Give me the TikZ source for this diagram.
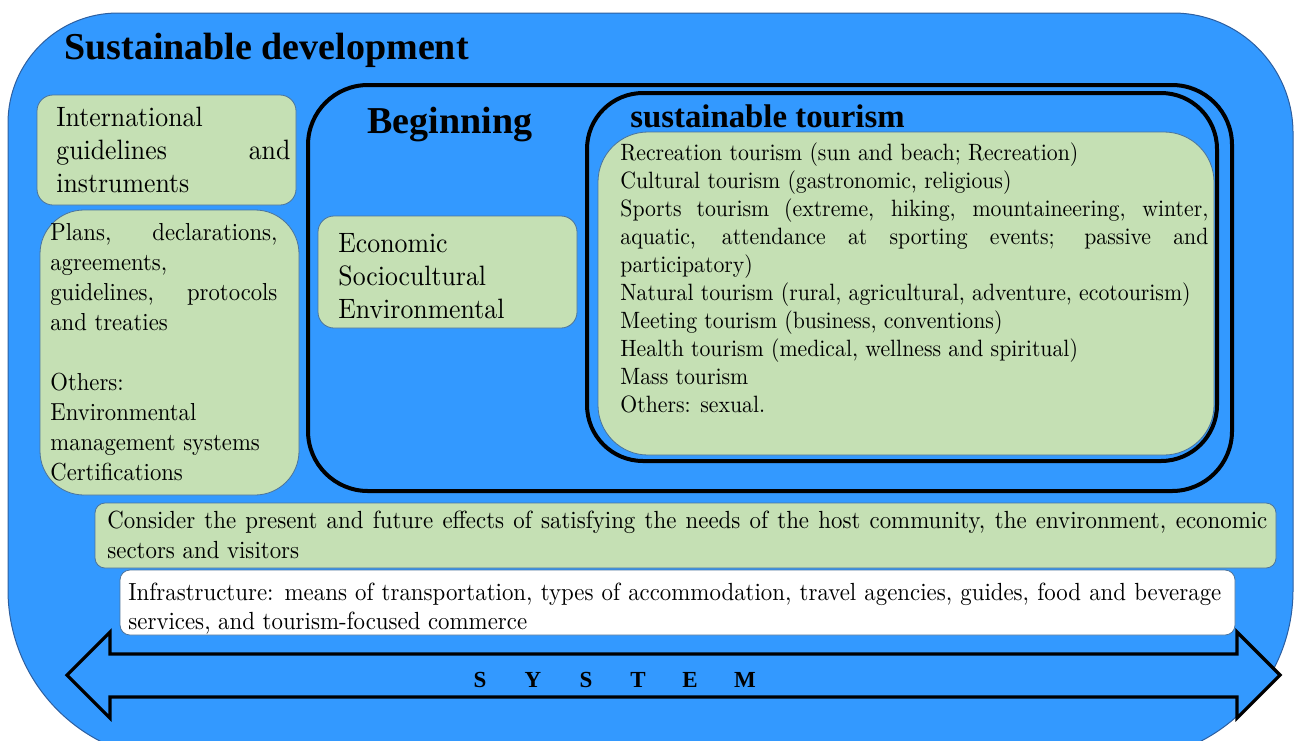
\documentclass[tikz,border=0pt]{standalone}
\usepackage{graphicx}
\usepackage{fontspec}
\newfontfamily\tsb{Liberation Serif}
\definecolor{sdblue}{RGB}{51,153,255}
\definecolor{sdedge}{RGB}{45,95,160}
\definecolor{sdgreen}{RGB}{197,224,180}
\definecolor{boxedge}{RGB}{75,115,155}
\newcommand\rs[3]{\scalebox{#1}[#2]{#3}}
\newcommand\jl[2]{\makebox[#1][s]{#2}}
\tikzset{
  gbox/.style={draw=boxedge, fill=sdgreen, line width=0.4pt},
  wbox/.style={draw=boxedge, fill=white, line width=0.4pt},
  frame/.style={draw=black, line width=2pt},
  txt/.style={anchor=base west, inner sep=0pt, text=black},
  ttl/.style={anchor=base west, inner sep=0pt, font=\tsb\bfseries\fontsize{19}{22}\selectfont},
  sys/.style={anchor=base, inner sep=0pt, font=\tsb\bfseries\fontsize{11.5}{14}\selectfont}
}
\begin{document}
\begin{tikzpicture}[x=0.5pt,y=-0.5pt]
\useasboundingbox (0,0) rectangle (1294,740);
\clip (0,0) rectangle (1294,740);
% outer blue area
\path[draw=sdedge, fill=sdblue, line width=0.5pt]
  (600,13) [rounded corners=60pt] -- (1293,13) -- (1293,400)
  [rounded corners=85pt] -- (1293,760) -- (8,760) -- (8,400)
  [rounded corners=55pt] -- (8,13) -- cycle;
\node[ttl] (title) at (64,59) {Sustainable development};

% left boxes
\draw[gbox, rounded corners=8pt] (37,95) rectangle (296,205);
\node[txt] (a1) at (56,126) {\rs{1.29}{1.4}{International}};
\node[txt] (a2) at (56,159) {\rs{1.29}{1.4}{\jl{90.7pt}{guidelines and}}};
\node[txt] (a3) at (56,192) {\rs{1.29}{1.4}{instruments}};

\draw[gbox, rounded corners=22pt] (40,210) rectangle (299,495);
\node[txt] (b1) at (50,240) {\rs{1.134}{1.23}{\jl{100.1pt}{Plans, declarations,}}};
\node[txt] (b2) at (50,270) {\rs{1.134}{1.23}{agreements,}};
\node[txt] (b3) at (50,300) {\rs{1.134}{1.23}{\jl{100.1pt}{guidelines, protocols}}};
\node[txt] (b4) at (50,330) {\rs{1.134}{1.23}{and treaties}};
\node[txt] (b5) at (50,390) {\rs{1.134}{1.23}{Others:}};
\node[txt] (b6) at (50,420) {\rs{1.134}{1.23}{Environmental}};
\node[txt] (b7) at (50,450) {\rs{1.134}{1.23}{management systems}};
\node[txt] (b8) at (50,480) {\rs{1.134}{1.23}{Certifications}};

% Beginning frame
\draw[frame, rounded corners=30pt] (308,85) rectangle (1232,491);
\node[ttl] (beg) at (367,133) {Beginning};
\draw[gbox, rounded corners=8pt] (318,216) rectangle (577,328);
\node[txt] (e1) at (338,252) {\rs{1.29}{1.4}{Economic}};
\node[txt] (e2) at (338,285) {\rs{1.29}{1.4}{Sociocultural}};
\node[txt] (e3) at (338,318) {\rs{1.29}{1.4}{Environmental}};

% sustainable tourism frame
\draw[frame, rounded corners=28pt] (587,93) rectangle (1217,461);
\node[anchor=base west, inner sep=0pt, font=\tsb\bfseries\fontsize{16.4}{19}\selectfont] (st) at (630,127) {sustainable tourism};
\draw[gbox, rounded corners=25pt] (598,132) rectangle (1214,455);
\foreach \t [count=\i from 0] in {
  {Recreation tourism (sun and beach; Recreation)},
  {Cultural tourism (gastronomic, religious)},
  {\jl{270.2pt}{Sports tourism (extreme, hiking, mountaineering, winter,}},
  {\jl{270.2pt}{aquatic, attendance at sporting events; passive and}},
  {participatory)},
  {Natural tourism (rural, agricultural, adventure, ecotourism)},
  {Meeting tourism (business, conventions)},
  {Health tourism (medical, wellness and spiritual)},
  {Mass tourism},
  {Others: sexual.}}
  \node[txt] (t\i) at (620,160+28*\i) {\rs{1.088}{1.18}{\t}};

% bottom boxes
\draw[gbox, rounded corners=5pt] (95,503) rectangle (1276,568);
\node[txt] (c1) at (107,528) {\rs{1.143}{1.24}{\jl{507.4pt}{Consider the present and future effects of satisfying the needs of the host community, the environment, economic}}};
\node[txt] (c2) at (107,558) {\rs{1.143}{1.24}{sectors and visitors}};
\draw[wbox, rounded corners=5pt] (120,570) rectangle (1235,635);
\node[txt] (i1) at (128,600) {\rs{1.143}{1.24}{\jl{478.1pt}{Infrastructure: means of transportation, types of accommodation, travel agencies, guides, food and beverage}}};
\node[txt] (i2) at (128,629) {\rs{1.143}{1.24}{services, and tourism-focused commerce}};

% SYSTEM double arrow
\draw[line width=1.6pt, fill=sdblue, line join=miter]
  (67,675) -- (110,632) -- (110,654) -- (1237,654) -- (1237,632) -- (1280,675)
  -- (1237,718) -- (1237,697) -- (110,697) -- (110,718) -- cycle;
\foreach \l/\x [count=\k] in {S/480,Y/533,S/586,T/638,E/690,M/745}
  \node[sys] (s\k) at (\x,687) {\l};
\end{tikzpicture}
\end{document}
